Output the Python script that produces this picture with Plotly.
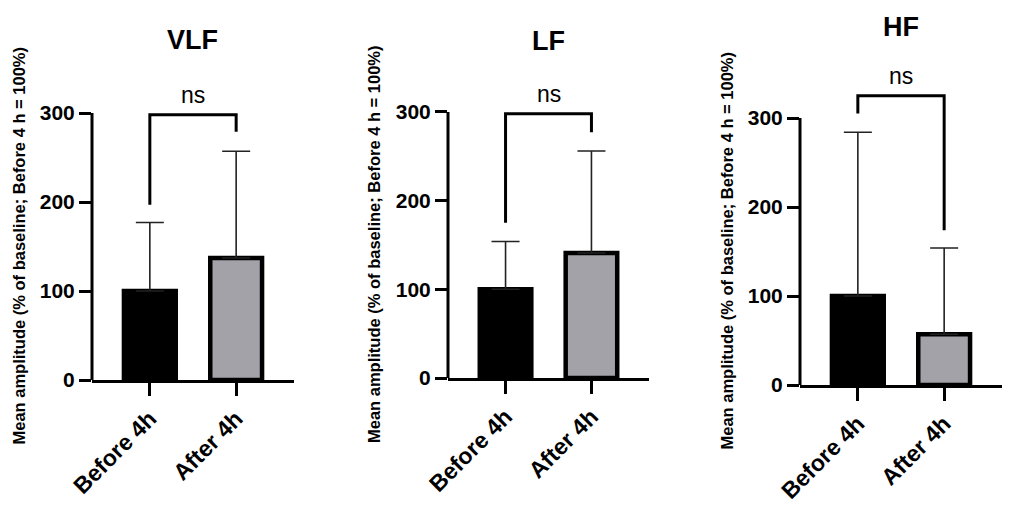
import plotly.graph_objects as go

# data (% of baseline, mean + SD)
groups = ["Before 4h", "After 4h"]
panels = ["VLF", "LF", "HF"]
means = {"VLF": [100, 137], "LF": [100, 141], "HF": [100, 57]}
sds = {"VLF": [77, 120], "LF": [54, 115], "HF": [184, 97]}
# significance bracket: left leg end, top, right leg end
brackets = {"VLF": [197, 298, 279], "LF": [175, 298, 277], "HF": [305, 325, 174]}
sig_labels = {"VLF": "ns", "LF": "ns", "HF": "ns"}
y_ticks = [0, 100, 200, 300]

# page body adds an 8px offset, so the figure is drawn 8px smaller and shifted
OFF = 8
W, H = 1018 - OFF, 508 - OFF
# pixel boxes (screen) of each panel: x left, x right, y of value 0, y of top of range
boxes = [(92, 294, 380, 77.4), (448, 649, 378, 76.5), (800, 1002, 385, 82.4)]
title_y = [40, 41, 27]
bar_colors = ["#000000", "#a3a2a8"]
font = "Arial, Liberation Sans, sans-serif"

fig = go.Figure()
layout = dict(width=W, height=H, margin=dict(l=0, r=0, t=0, b=0, autoexpand=False),
              template="none", plot_bgcolor="white", paper_bgcolor="white",
              showlegend=False)
shapes, annotations = [], []

for i, p in enumerate(panels):
    n = "" if i == 0 else str(i + 1)
    xa, ya = "x" + n, "y" + n
    x0, x1, yb, yt = [v - OFF for v in boxes[i]]

    fig.add_trace(go.Bar(
        x=groups, y=means[p], width=0.6, xaxis=xa, yaxis=ya,
        marker=dict(color=bar_colors, line=dict(color="black", width=4.5)),
        error_y=dict(type="data", array=sds[p], arrayminus=[0, 0], symmetric=False,
                     width=14, thickness=1.6, color="#222222"),
        hoverinfo="skip"))
    b = brackets[p]
    fig.add_trace(go.Scatter(
        x=[groups[0], groups[0], groups[1], groups[1]], y=[b[0], b[1], b[1], b[2]],
        mode="lines", line=dict(color="black", width=3), xaxis=xa, yaxis=ya,
        hoverinfo="skip"))

    layout["xaxis" + n] = dict(
        domain=[x0 / W, x1 / W], anchor=ya, range=[-0.67, 1.67], automargin=False,
        showline=True, linewidth=3, linecolor="black", showgrid=False, zeroline=False,
        ticks="outside", ticklen=13, tickwidth=3, tickcolor="black", tickangle=-45,
        tickfont=dict(family=font, size=23, color="black", weight="bold"))
    layout["yaxis" + n] = dict(
        domain=[1 - yb / H, 1 - yt / H], anchor=xa, range=[0, 340], automargin=False,
        showline=False, showgrid=False, zeroline=False,
        tickvals=y_ticks, ticks="outside", ticklen=12, tickwidth=3, tickcolor="black",
        tickfont=dict(family=font, size=21, color="black", weight="bold"))

    # y axis line only up to 300
    shapes.append(dict(type="line", xref=xa + " domain", yref=ya, x0=0, x1=0,
                       y0=y_ticks[0], y1=y_ticks[-1], line=dict(color="black", width=3),
                       layer="above"))

    annotations.append(dict(text=p, xref=xa + " domain", x=0.5, yref="paper",
                            y=1 - (title_y[i] - OFF) / H, showarrow=False,
                            xanchor="center", yanchor="middle",
                            font=dict(family=font, size=27, color="black", weight="bold")))
    annotations.append(dict(text=sig_labels[p], xref=xa + " domain", x=0.5, yref=ya,
                            y=b[1], yshift=20, showarrow=False,
                            xanchor="center", yanchor="middle",
                            font=dict(family=font, size=23, color="black")))
    annotations.append(dict(text="Mean amplitude (% of baseline; Before 4 h = 100%)",
                            xref=xa + " domain", x=0, xshift=-74, yref=ya, y=150,
                            xanchor="center", yanchor="middle",
                            textangle=-90, showarrow=False,
                            font=dict(family=font, size=16.5, color="black", weight="bold")))

layout["shapes"] = shapes
layout["annotations"] = annotations
fig.update_layout(**layout)

fig.write_html("out.html")
